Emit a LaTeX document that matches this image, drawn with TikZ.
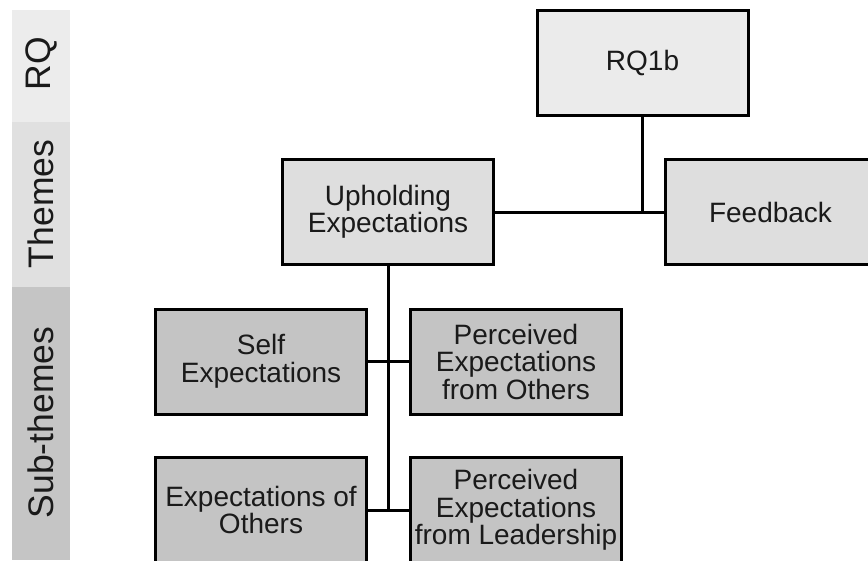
\documentclass[tikz,border=0pt]{standalone}
\usepackage{fontspec}
\setmainfont{Liberation Sans}
\tikzset{
  codebox/.style={draw=black, line width=3pt, minimum width=211pt, minimum height=105pt,
    inner sep=0pt, align=center, text=textColor, font=\fontsize{28}{27.5}\selectfont},
  rqbox/.style={codebox, fill=rqColor},
  themebox/.style={codebox, fill=themeColor},
  subbox/.style={codebox, fill=subColor},
  link/.style={draw=black, line width=3pt},
  bandlabel/.style={rotate=90, inner sep=0pt, outer sep=0pt, text=textColor,
    font=\fontsize{35.5}{35.5}\selectfont}
}
\begin{document}
\begin{tikzpicture}[x=1pt,y=-1pt]
\definecolor{textColor}{RGB}{26,26,26}
\definecolor{rqColor}{RGB}{235,235,235}
\definecolor{themeColor}{RGB}{222,222,222}
\definecolor{subColor}{RGB}{196,196,196}
\definecolor{bandOne}{RGB}{236,236,236}
\definecolor{bandTwo}{RGB}{224,224,224}
\definecolor{bandThree}{RGB}{197,197,197}
\path[use as bounding box,fill=white] (0,0) rectangle (868,560);
\clip (0,0) rectangle (868,560);
\begin{scope}
% level bands on the left
\path[fill=bandOne] (12,10) rectangle (70,122);
\path[fill=bandTwo] (12,122) rectangle (70,287);
\path[fill=bandThree] (12,287) rectangle (70,560);

\node[bandlabel] (lblRQ) at (41,64) {RQ};
\node[bandlabel] (lblThemes) at (41,204) {Themes};
\node[bandlabel] (lblSub) at (41,422.5) {Sub-themes};
\end{scope}
\begin{scope}
% boxes
\node[rqbox] (rq) at (642.5,63) {RQ1b};

\node[themebox] (up) at (388,212) {Upholding\\Expectations};

\node[themebox] (fb) at (770.5,212) {Feedback};

\node[subbox] (se) at (261,361.5) {Self\\Expectations};

\node[subbox] (po) at (516,361.5) {Perceived\\Expectations\\from Others};

\node[subbox] (eo) at (261,510) {Expectations of\\Others};

\node[subbox] (pl) at (516,510) {Perceived\\Expectations\\from Leadership};
\end{scope}
\begin{scope}
% connectors
\draw[link] (up.east) -- (fb.west);

\draw[link] (rq.south) -- (rq.south |- fb.west);

\draw[link] (up.south) -- (up.south |- eo.east);

\draw[link] (se.east) -- (po.west);

\draw[link] (eo.east) -- (pl.west);
\end{scope}
\end{tikzpicture}
\end{document}
